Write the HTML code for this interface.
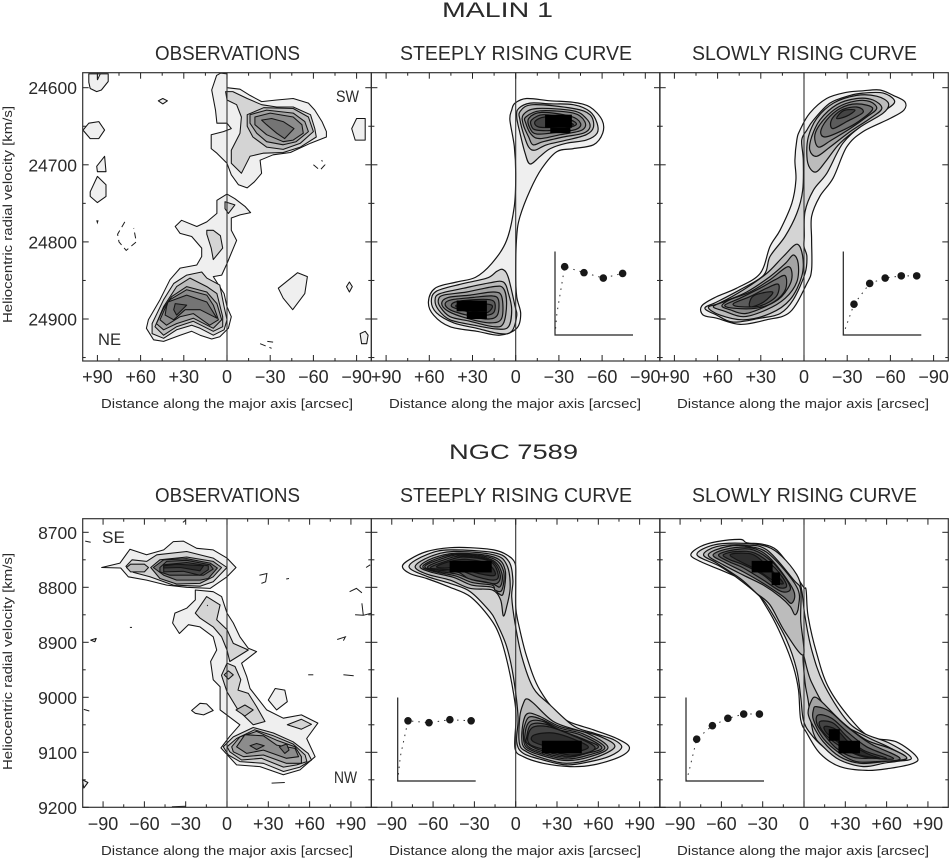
<!DOCTYPE html>
<html lang="en">
<head>
<meta charset="utf-8">
<title>Malin 1 and NGC 7589 position-velocity diagrams</title>
<style>
html,body{margin:0;padding:0;background:#fff;}
svg{display:block;}
text{font-family:"Liberation Sans",sans-serif;fill:#2a2a2a;}
</style>
</head>
<body>
<svg id="figure" width="949" height="859" viewBox="0 0 949 859" xmlns="http://www.w3.org/2000/svg">
<rect width="949" height="859" fill="#fff"/>
<text x="442" y="17" font-size="21" textLength="111" lengthAdjust="spacingAndGlyphs">MALIN 1</text>
<text x="449" y="459" font-size="21" textLength="129" lengthAdjust="spacingAndGlyphs">NGC 7589</text>
<g id="plots"></g>
</svg>
<script>
// ---- tick values and labels ----
const xTickValues = [90, 60, 30, 0, -30, -60, -90];
const xMinorValues = [75, 45, 15, -15, -45, -75];
const xLabelsTop = ['+90', '+60', '+30', '0', '\u221230', '\u221260', '\u221290'];
const xLabelsBottom = ['\u221290', '\u221260', '\u221230', '0', '+30', '+60', '+90'];
const yTicksTop = [24600, 24700, 24800, 24900];
const yMinorTop = [24650, 24750, 24850, 24950];
const yTicksBottom = [8700, 8800, 8900, 9000, 9100, 9200];
const yMinorBottom = [8750, 8850, 8950, 9050, 9150];
const panelTitles = ['OBSERVATIONS', 'STEEPLY RISING CURVE', 'SLOWLY RISING CURVE'];

// ---- rotation curve insets: radius (arcsec), rotation velocity (km/s) ----
const malinSteepRadius = [0, 3, 15, 45, 75, 105];
const malinSteepVelocity = [0, 80, 253, 231, 211, 228];
const malinSlowRadius = [0, 4, 16.6, 41, 65, 90, 114];
const malinSlowVelocity = [0, 30, 114, 191, 211, 219, 219];
const ngcSteepRadius = [0, 4, 16, 48.6, 81, 114];
const ngcSteepVelocity = [0, 90, 223, 216, 227, 223];
const ngcSlowRadius = [0, 4, 16.6, 41, 65, 89.6, 114];
const ngcSlowVelocity = [0, 30, 155, 205, 232, 248, 248];

// ---- contours: [grey level (-1 = unfilled), [offset, velocity, ...]] ----
const malinObsContours = [
[0,[7.2,24584,4.4,24581,0,24582,0,24600,-9,24602,-16,24610,-24,24618,-34.5,24616,-46,24614,-56.5,24620,-61,24629,-66,24644,-69,24657,-69,24664,-58,24672,-44,24684,-32,24687,-23,24694,-24,24711,-19,24722,-14,24730,-8,24726,-3,24713,0,24698,7,24685,11,24679,11,24661,2.5,24657,-3,24653,0,24646,7,24646,8,24629,10.6,24603]],
[1,[1,24605,0,24616,-6.7,24622,-10,24638,-9,24659,-3,24681,-3,24698,-10,24711,-16,24689,-25,24685,-39,24684,-51,24677,-62,24664,-61,24653,-58,24635,-46,24625,-34.5,24625,-24,24622,-14,24614,-4,24605]],
[2,[-14,24635,-25.5,24626,-46,24627,-56.5,24638,-60,24657,-51,24672,-39,24680,-27.5,24677,-18,24664,-14,24650]],
[3,[-16,24635,-27.5,24629,-46,24633,-54,24644,-56.5,24657,-48,24670,-39,24674,-27.5,24670,-20.6,24659,-16,24646]],
[4,[-19.4,24638,-30,24633,-46,24638,-52,24648,-53,24659,-46,24668,-39,24670,-27.5,24661,-19.4,24648]],
[5,[-24,24642,-31,24640,-39,24644,-46.5,24653,-40,24666,-34.5,24659,-27.5,24648]],
[0,[0,24738,-5.5,24744,-12.5,24754,-16.4,24762,-9,24765,-3,24769,-3,24785,-6.7,24798,-2,24819,0,24828,3.7,24843,9.5,24845,2,24867,0,24884,-3,24897,-1,24912,5,24923,10.6,24926,18.7,24921,24.5,24916,32.6,24921,44,24929,51,24927,56,24912,54.6,24901,46.5,24875,39.6,24849,32.6,24834,21,24830,17.6,24819,17.6,24808,24.5,24793,32.6,24789,36,24780,31.5,24772,21,24780,14,24774,7,24763,7,24746]],
[1,[1.4,24748,-5.5,24752,-1,24763,1.4,24757]],
[1,[14,24785,9.5,24785,4.6,24792,3,24808,9.5,24823,11,24808,14,24790]],
[1,[37,24854,28,24843,17.6,24839,14,24847,5,24856,2,24884,0,24901,2,24914,9.5,24921,18.7,24912,24.5,24908,35,24914,44,24925,52,24919,52,24906,44,24875]],
[2,[35,24858,25.7,24847,14,24858,7,24867,3,24897,3,24910,9.5,24916,23.4,24903,35,24910,44,24921,50,24910,44,24884]],
[3,[38.4,24871,28,24858,14,24865,7,24880,3.7,24901,9.5,24912,23.4,24899,35,24906,44,24914,49,24906,44,24886]],
[4,[39.6,24875,28,24862,14,24869,9.5,24882,6,24901,12,24908,23.4,24893,32.6,24897,42,24908,46.5,24901,43,24886]],
[5,[41,24878,28,24869,14,24878,7,24899,18.7,24888,29,24888,37,24901,43,24895,42,24884]],
[6,[36,24880,28,24882,35,24895,37,24888]],
[0,[47.7,24617,44.6,24614,41.4,24617,44.6,24621]],
[0,[96,24582,82.5,24582,82.5,24592,87.2,24603,90.5,24605,95,24601,96,24593]],
[0,[100,24655,96,24646,89,24644,85,24655,89,24666,95,24666]],
[0,[90.5,24702,85,24689,84,24709,90,24709]],
[0,[95,24735,90,24715,84,24726,84,24741,90,24749,95,24741]],
[0,[-86.6,24653,-90,24640,-96,24640,-96,24668,-89,24668]],
[0,[-35.6,24860,-49,24840,-55.8,24845,-54,24867,-45.6,24888,-39,24873]],
[0,[-83,24858,-85,24852,-87,24858,-85,24865]],
[0,[-92.4,24919,-96,24916,-98,24921,-97,24932,-93.5,24932]]
];
const malinObsOpen = [[90,24582,90,24590,88,24582],[90.5,24772,90,24775,89.5,24772]];
const malinObsDashed = [[71,24774,76,24790,75,24800,70,24811,63,24800,64.8,24782],[-60,24700,-64.6,24707,-68,24700,-65.7,24694],[-23,24932,-31,24938],[-28,24929,-32,24930]];

const malinSteepContours = [
[0,[0.5,24620,-7.6,24614,-24,24617,-40,24619,-51.6,24625,-60,24642,-60.4,24659,-54,24674,-40,24679,-28.5,24683,-18,24705,-10,24733,-3,24767,-0.7,24793,0,24841,-0.7,24871,-3.5,24893,-0.7,24912,11,24921,27,24916,45.6,24910,57,24895,60.6,24878,56,24860,41,24852,28,24846,16.7,24828,6.3,24798,1,24754,0,24711,1,24676,4,24642,2.8,24629]],
[1,[-2,24627,-10,24620,-24,24621,-40,24622,-51.6,24631,-56.5,24646,-56.5,24659,-49,24668,-35.4,24672,-24,24679,-17,24689,-10,24699,-6.5,24685,-3,24659,-0.7,24638]],
[2,[-3,24631,-12,24622,-40,24627,-51.6,24635,-54,24651,-49,24661,-35.4,24668,-21.5,24674,-13.4,24681,-9,24677,-5.3,24659,-3,24642]],
[3,[-5.3,24635,-14.6,24627,-40,24630,-49,24640,-51.6,24651,-47,24659,-33,24664,-19,24670,-12,24674,-9,24664,-5.3,24648]],
[4,[-7,24638,-17,24630,-40,24633,-48,24644,-46,24655,-31,24661,-17,24666,-11,24661,-7,24646]],
[5,[-9,24640,-18,24632,-38,24637,-45,24646,-42,24654,-28.5,24658,-14.6,24660,-10,24653]],
[6,[-11,24642,-19,24635,-35.4,24640,-42,24648,-28.5,24655,-14.6,24655,-11,24650]],
[7,[-13.4,24644,-20,24638,-31,24642,-40,24648,-28.5,24651,-16,24651]],
[1,[8.6,24836,5,24847,0.5,24883,-0.7,24896,2.8,24916,11,24919,27,24912,43,24905,55,24892,58.6,24877,55,24864,38.7,24855,20,24847,13,24838]],
[2,[8.6,24852,5,24867,2.8,24888,5,24910,13,24913,29,24908,45.6,24901,53.7,24888,56,24875,52.5,24867,36,24860,18,24853]],
[3,[8.6,24860,6.3,24880,8.6,24906,15.5,24910,31.7,24903,45.6,24897,52.5,24884,53.7,24875,50,24869,34,24865,15.5,24858]],
[4,[9.7,24871,9.7,24899,18,24905,34,24899,46.8,24890,51.4,24880,46.8,24872,31.7,24869,15.5,24865]],
[5,[12,24875,12.7,24895,20,24900,34,24895,45.6,24888,49,24880,44.4,24875,29.4,24872,16.7,24870]],
[6,[14.4,24880,15.5,24892,22.5,24895,36.3,24889,44.4,24884,42,24878,29.4,24875,18,24875]],
[7,[16.7,24882,19,24891,24.8,24891,38.7,24886,41,24882,29.4,24880]]
];
const malinSteepPeaks = [[-20.4,-39,24635,24652],[-24,-38,24652,24659],[20,41,24876,24890],[20,34,24890,24900]];

const malinSlowContours = [
[0,[-41,24604,-52.8,24603,-62,24610,-70,24618,-69.4,24629,-59.7,24640,-41,24657,-29.6,24677,-20.3,24717,-11,24741,-5.3,24767,-5.3,24797,-5.3,24836,-2,24854,9.7,24891,26,24901,44.4,24907,60.6,24899,70,24895,71,24883,60.6,24871,46.8,24860,30.5,24841,23.6,24806,16.7,24785,8.5,24750,5.6,24720,6.3,24694,5,24668,2.8,24655,-4,24633,-15.7,24614,-29.6,24606]],
[1,[-41,24607,-55,24607,-63,24618,-55,24631,-41,24648,-27,24672,-15.8,24711,-6.5,24733,-0.7,24761,-0.2,24793,0,24806,-2,24819,-0.7,24841,7.4,24875,16.7,24893,30.5,24899,49,24904,60.6,24895,68.8,24886,60.6,24878,44.4,24862,28,24843,23.6,24819,13.2,24793,5,24763,0.9,24733,0.5,24694,1.6,24668,-2,24655,-6.5,24642,-18,24620,-32,24610]],
[2,[-8.8,24709,-15.7,24694,-25,24672,-39,24651,-55,24633,-58.6,24620,-50.5,24611,-36.6,24610,-20.4,24620,-8.8,24640,-3,24664,-2,24689,-4,24704]],
[3,[-8.8,24689,-18,24677,-32,24657,-45.8,24640,-54,24627,-48,24616,-36.6,24614,-22.7,24622,-11,24642,-5.3,24664,-4,24681]],
[4,[-10,24677,-19,24668,-32,24653,-43.5,24638,-50.5,24627,-45.8,24618,-36.6,24617,-23.8,24625,-13.4,24642,-7.6,24661]],
[5,[-14.6,24664,-25,24657,-37.7,24644,-47.7,24627,-36.6,24621,-25,24627,-15.7,24642,-11.6,24657]],
[6,[-20,24653,-29.6,24644,-41,24632,-36.6,24625,-26,24629,-19,24642]],
[7,[-22.7,24640,-29.6,24637,-35.4,24629,-27.3,24630]],
[2,[5,24803,0.9,24819,1.6,24845,9.7,24875,23.6,24893,42,24901,58.3,24895,66.4,24885,58.3,24879,42,24862,26,24841,14.4,24819]],
[3,[7.4,24817,4,24828,5,24852,13,24873,26,24888,42,24897,55,24890,63,24884,54.9,24877,39.8,24865,23.6,24845,13,24828]],
[4,[10.9,24832,8.6,24849,15.5,24871,27,24884,41,24893,51.4,24888,57,24883,51.4,24875,37.5,24865,23.6,24849]],
[5,[13,24844,13,24862,21,24878,33,24886,49,24886,54.9,24882,44.4,24873,30.5,24860,20,24849]],
[6,[17.8,24855,19.4,24871,30.5,24883,44.4,24884,49,24880,37.5,24871,26,24860]],
[7,[21.8,24865,28,24878,37.5,24884,35,24870]]
];
const malinSlowPeaks = [];

const ngcObsContours = [
[0,[-91,8764,-77.7,8756,-70.5,8731,-58.4,8741,-46,8732,-39,8717,-31.7,8716,-22,8729,-10,8732,0,8747,6.5,8764,0,8781,-12.3,8802,-29.3,8800,-43.8,8796,-58.4,8787,-71.7,8781,-77.2,8765]],
[1,[-73.4,8762,-69,8750,-58.4,8753,-51,8741,-29.3,8735,-10,8747,0,8764,-10,8790,-19.6,8798,-39,8796,-56,8781,-68,8773]],
[3,[-55.4,8764,-48.7,8750,-29.3,8745,-10,8753,-3.9,8764,-10,8781,-19.6,8793,-36.6,8794,-48.7,8784]],
[5,[-53.5,8764,-46,8750,-29.3,8748,-12.3,8756,-7,8765,-13.6,8784,-19.6,8787,-36.6,8787,-46,8778]],
[6,[-48.7,8764,-43.8,8753,-29.3,8751,-12.3,8759,-10,8767,-17,8778,-27,8778,-41.4,8778,-48.7,8772]],
[7,[-46,8759,-29.3,8755,-13.6,8761,-13.6,8768,-19.6,8778,-31.7,8771,-46,8772]],
[8,[-46,8761,-36.6,8758,-17,8761,-19.6,8770,-34,8764,-46,8765]],
[2,[-73,8764,-70,8758,-60,8758,-57,8764,-60,8772,-70,8772]],
[0,[-23,8805,-10,8808,-3.9,8817,0,8847,4.6,8865,9.4,8890,15.5,8911,21.5,8917,10.6,8938,14.3,8962,16.7,8984,28.8,9023,40.9,9038,54,9032,66,9047,57.9,9075,64,9108,53,9132,40.9,9141,24,9126,7,9123,-4.4,9092,2,9071,9.4,9050,-5,9023,-5,8981,-10,8968,-11.9,8935,-7.5,8914,-10,8890,-19.6,8872,-28,8868,-34.6,8884,-39.5,8865,-37.8,8847,-29.3,8838,-23,8823]],
[1,[-23,8847,-14.8,8817,-5,8832,-7.5,8859,0,8877,4.6,8902,15.5,8914,2,8935,0,8914,-3.9,8890,-10,8872,-19.6,8856]],
[1,[0,8938,5.8,8944,10,8968,8,8987,15.5,8993,21.5,9017,27.6,9044,19,9050,8,9023,0,8990,-4,8960]],
[2,[-2,8959,1,8952,4.6,8959,1,8967]],
[2,[6.5,9023,13,9014,19,9023,13,9034]],
[1,[-2.7,9090,4.6,9072,19,9055,33.7,9065,48,9081,59,9102,61.4,9114,53,9127,41,9135,26.4,9120,9.4,9117,1,9105]],
[2,[0,9090,7,9075,20,9059,33.7,9070,48,9085,56.7,9105,58,9117,50.6,9123,41,9127,25,9111,10.6,9114,2,9099]],
[3,[3.4,9090,9.4,9072,21.5,9062,36,9078,49.4,9090,54,9108,54,9120,43,9120,26.4,9105,12,9108,4.6,9099]],
[4,[7,9090,13,9068,26.4,9070,36,9087,49.4,9093,52,9108,43,9111,26.4,9096,14.3,9102]],
[5,[16.7,9088,21.5,9084,27,9088,21.5,9095]],
[5,[38,9090,43.3,9085,45,9096,42,9102]],
[1,[43.8,9050,54,9040,61.4,9049,54,9058]],
[0,[-25.7,9024,-19.6,9011,-14.8,9012,-10,9024,-17,9032,-23,9029]],
[0,[30,9005,35,8984,42,8987,43.8,9008,36,9023]],
[0,[-105,9150,-101,9155,-104,9165]],
[0,[-99,8896,-95,8893,-96,8899]]
];
const ngcObsOpen = [[23.5,8778,29,8775,28,8790,25,8793],[43,8785,45,8784],[89,8808,94,8802,98,8810],[93,8850,99,8851,105,8847],[98,8829,99,8851],[80,8895,86,8890,84.5,8897],[84.5,8959,92,8961],[59,8959,62.7,8959],[101,8764,104,8759],[32.4,9156,42,9155],[-70.5,8873,-69,8873],[-104,9022,-100,9025],[-103,8716,-99,8718],[-40,9199,-30,9198],[-32,8682,-30,8678],[-14.4,8834,-14,8832]];

const ngcSteepContours = [
[0,[-82.3,8762,-76.8,8749,-64.6,8735,-47.7,8728,-33,8728,-16,8732,-6.5,8741,-0.5,8756,0,8787,0,8835,1.9,8865,8,8926,17.6,8987,34.4,9038,56.4,9059,73.4,9075,82.6,9091,75.8,9108,56.4,9123,39.5,9126,20,9120,5.6,9108,-0.5,9093,0.2,9041,-0.5,9010,-5.4,8944,-11.4,8890,-18.7,8856,-33,8817,-47.7,8800,-64.6,8784,-76.8,8775]],
[1,[-77.5,8762,-64,8740,-47.7,8732,-16,8737,-5,8753,-2,8787,-2.9,8817,-0.5,8865,4.4,8926,12.8,8983,25,9014,42,9052,56.4,9065,71,9077,77,9091,68.5,9107,54,9117,37,9123,20,9114,5.6,9102,0.7,9081,1.7,9035,-1.7,8963,-6.5,8908,-13.8,8865,-18.7,8844,-33,8808,-47.7,8793,-64.6,8780]],
[2,[-73,8762,-62,8744,-45,8735,-16,8741,-6.5,8759,-4,8799,-6.5,8835,-9,8852,-11,8823,-17,8805,-33,8802,-47.7,8787,-64.6,8776]],
[3,[-69.5,8762,-60,8747,-43,8738,-16,8745,-7.7,8768,-9,8811,-12.6,8811,-17,8800,-32,8796,-45,8782,-62,8772]],
[4,[-67.5,8762,-57.5,8748,-41.5,8739.5,-16.7,8747.5,-8.8,8771,-10,8805,-15,8805,-17.2,8796,-31.4,8791.5,-44,8779,-60,8771]],
[5,[-66,8762,-55,8749,-40,8741,-17.4,8750,-10,8775,-11.4,8799,-17.4,8793,-30.8,8787,-43,8776,-58.6,8770]],
[6,[-64,8763,-52.5,8750.5,-39,8743,-18,8751.5,-11.3,8776.5,-13.7,8793,-22.7,8790,-34.4,8784,-41.5,8773,-57,8768.5]],
[7,[-62,8764,-50,8752,-38,8745,-18.6,8753,-12.6,8778,-16,8787,-28,8781,-40,8770,-55,8767]],
[8,[-57.4,8762,-47.7,8753,-35.6,8749,-20,8758,-15,8778,-27,8775,-40,8765,-52.5,8765]],
[2,[8,9003,13,9011,27.4,9044,44,9059,61,9071,72,9090,56.4,9111,37,9120,20,9111,8,9099,2.7,9084,3,9035,5.6,9011]],
[3,[9,9029,17.7,9035,32,9053,51.6,9065,67,9091,54,9108,37,9115,17.7,9105,6.8,9093,4.4,9075,5.6,9044]],
[4,[9.7,9036,18.8,9040,32,9056,49,9066.5,64.7,9091,53,9105,37,9112,17.7,9102,7.4,9090,5.6,9070,6.2,9054]],
[5,[10.4,9044,20,9044,32,9059,46.7,9068,62.5,9091,51.6,9102,37,9109,17.7,9099,8,9087,6.8,9065]],
[6,[11,9050,21.2,9048.5,34.5,9062,52,9079,60,9091,47,9103.5,37,9107,17.7,9096,8.5,9084,7.9,9073]],
[7,[11.6,9056,22.5,9053,37,9065,57.6,9091,42,9105,17.7,9093,9,9081]],
[8,[14,9068,27.4,9065,42,9076,52.8,9091,39.5,9099,19,9087,11.6,9078]]
];
const ngcSteepPeaks = [[-48,-17.4,8752,8773],[19,48,9079,9102]];

const ngcSlowContours = [
[0,[-82.2,8741,-75.4,8726,-63.3,8717,-46.3,8713,-41.5,8719,-29.5,8722,-20,8732,-10.2,8762,-0.5,8799,1.5,8805,3,8853,9.2,8920,17.6,8981,33.4,9038,48,9072,67,9081,81.8,9108,79.4,9120,62.5,9129,45.5,9133,26,9126,11.6,9102,2,9065,-2.4,9041,-4,8987,-7.8,8944,-15,8896,-24.7,8847,-39,8793,-46.3,8784,-61,8768,-75.4,8753]],
[1,[-77.7,8741,-65.4,8723,-43.6,8720,-27,8726,-16,8744,-5.3,8777,-1.7,8805,0.7,8853,5.6,8914,14,8974,29.8,9038,43,9065,62.5,9084,78,9111,62.5,9117,45.5,9123,28.6,9114,14,9090,4.4,9065,-0.5,9041,-2.4,8999,-5.3,8950,-12.6,8896,-24.7,8841,-32,8817,-46.3,8787,-61,8762]],
[2,[-73,8741,-63.4,8726,-44,8723,-27,8732,-7.7,8786,-2.4,8805,-2.4,8859,-0.5,8923,-13.8,8881,-24.7,8832,-34.4,8811,-46.3,8784,-63.4,8756]],
[2,[-0.5,8923,5.5,8973,21.3,9037,45.5,9072,61,9090,74.6,9111,57.6,9120,43,9126,26,9114,14,9090,6.8,9065,3,9005,0.7,8973]],
[3,[-69.5,8741,-56,8726,-39,8726,-24.7,8741,-5.3,8799,-4,8835,-6.5,8850,-10,8835,-17.4,8817,-29.5,8796,-44,8778,-58.6,8759]],
[5,[-66,8741,-53.7,8729,-36.8,8729,-23.5,8750,-7.7,8805,-9,8829,-15,8817,-29.5,8793,-44,8772,-57.4,8755]],
[6,[-62,8741,-51,8732,-36.8,8732,-22.3,8756,-10,8799,-16,8808,-29.5,8787,-44,8765,-55,8753]],
[7,[-58.6,8741,-49,8735,-35.6,8738,-21,8765,-12.6,8796,-18.6,8800,-29.5,8778,-44,8759,-53.7,8750]],
[8,[-53.7,8741,-44,8738,-34.4,8744,-20,8778,-15,8793,-21,8790,-34.4,8768,-46.5,8753]],
[3,[8.5,9000,14,9011,28.6,9047,45.5,9078,62.5,9093,74.6,9111,57.6,9117,40.7,9120,26,9108,14,9081,6.8,9053,3,9029,5.6,9005]],
[5,[9,9017,18.9,9026,31,9053,48,9084,69.7,9111,52.8,9117,38,9117,26,9102,14,9075,6.8,9041,6.8,9023]],
[6,[10.4,9032,20,9038,31,9062,45.5,9090,65,9111,50.4,9111,35.8,9109,23.7,9093,14,9066,9.2,9047]],
[7,[11.6,9044,21.3,9047,31,9071,43,9096,60,9111,43,9108,31,9096,20,9078,12.8,9059]],
[8,[15,9053,23.7,9059,33.4,9084,45.5,9102,55,9111,38,9103,26,9084,16.5,9065]]
];
const ngcSlowPeaks = [[-38,-22.8,8752,8773],[-23.5,-17.4,8773,8796],[18,26,9058,9079],[25,40.7,9079,9102]];

// ---- layout and axis functions ----
const greys = ['#efefef','#d4d4d4','#bcbcbc','#a4a4a4','#8c8c8c','#747474','#5c5c5c','#444444','#2e2e2e'];
const zeros = [227, 515.7, 804];
const HALF = 144.3;
const rows = [
  {name:'malin', top:72.7, bottom:361, scaleX:1.44, dir:-1, v0:24600, v0Y:87.7, pxPerV:0.771,
   majorY:yTicksTop, minorY:yMinorTop, xLabels:xLabelsTop, xValues:xTickValues, titleBase:60, tickBase:383, axisBase:408,
   yTitleC:214.5, insetBase:335},
  {name:'ngc', top:518.7, bottom:807.3, scaleX:1.377, dir:1, v0:8700, v0Y:532.3, pxPerV:0.55,
   majorY:yTicksBottom, minorY:yMinorBottom, xLabels:xLabelsBottom, xValues:xTickValues.slice().reverse(), titleBase:502, tickBase:830, axisBase:855,
   yTitleC:661.5, insetBase:781}
];
const panelSpecs = [
  [{contours:malinObsContours, open:malinObsOpen, dashed:malinObsDashed, peaks:[], smooth:false},
   {contours:malinSteepContours, open:[], dashed:[], peaks:malinSteepPeaks, smooth:true, rr:malinSteepRadius, rv:malinSteepVelocity, ix:555},
   {contours:malinSlowContours, open:[], dashed:[], peaks:malinSlowPeaks, smooth:true, rr:malinSlowRadius, rv:malinSlowVelocity, ix:843.3}],
  [{contours:ngcObsContours, open:ngcObsOpen, dashed:[], peaks:[], smooth:false},
   {contours:ngcSteepContours, open:[], dashed:[], peaks:ngcSteepPeaks, smooth:true, rr:ngcSteepRadius, rv:ngcSteepVelocity, ix:397.7},
   {contours:ngcSlowContours, open:[], dashed:[], peaks:ngcSlowPeaks, smooth:true, rr:ngcSlowRadius, rv:ngcSlowVelocity, ix:686}]
];
const titleBoxes = [[155,145],[400,232],[692,225]];
const axisTitleStarts = [101,389,677];
const INSET_X = 0.644, INSET_Y = 0.27;

const NS = 'http://www.w3.org/2000/svg';
const root = document.getElementById('plots');
function make(tag, attrs, parent) {
  const el = document.createElementNS(NS, tag);
  for (const k in attrs) el.setAttribute(k, attrs[k]);
  parent.appendChild(el);
  return el;
}
function sx(row, zero, a) { return zero + row.dir * a * row.scaleX; }
function sy(row, v) { return row.v0Y + (v - row.v0) * row.pxPerV; }
function toPts(row, zero, flat) {
  const pts = [];
  for (let i = 0; i < flat.length; i += 2) pts.push([sx(row, zero, flat[i]), sy(row, flat[i + 1])]);
  return pts;
}
function straightPath(pts, closed) {
  return 'M' + pts.map(p => p[0].toFixed(1) + ' ' + p[1].toFixed(1)).join('L') + (closed ? 'Z' : '');
}
function smoothPath(pts) {
  const n = pts.length;
  let d = 'M' + pts[0][0].toFixed(1) + ' ' + pts[0][1].toFixed(1);
  for (let i = 0; i < n; i++) {
    const p0 = pts[(i - 1 + n) % n], p1 = pts[i], p2 = pts[(i + 1) % n], p3 = pts[(i + 2) % n];
    const c1x = p1[0] + (p2[0] - p0[0]) / 6, c1y = p1[1] + (p2[1] - p0[1]) / 6;
    const c2x = p2[0] - (p3[0] - p1[0]) / 6, c2y = p2[1] - (p3[1] - p1[1]) / 6;
    d += 'C' + [c1x, c1y, c2x, c2y, p2[0], p2[1]].map(x => x.toFixed(1)).join(' ');
  }
  return d + 'Z';
}

rows.forEach((row, ri) => {
  zeros.forEach((zero, pi) => {
    const spec = panelSpecs[ri][pi];
    const left = zero - HALF, right = zero + HALF;
    const base = row.name + '-' + ['observations', 'steep', 'slow'][pi];
    const g = make('g', {}, root);
    
    

    const t = make('text', {x: titleBoxes[pi][0], y: row.titleBase, 'font-size': 20.5, textLength: titleBoxes[pi][1], lengthAdjust: 'spacingAndGlyphs'}, g);
    t.textContent = panelTitles[pi];
    
    

    // contours
    spec.contours.forEach((ring) => {
      const pts = toPts(row, zero, ring[1]);
      const path = make('path', {d: spec.smooth ? smoothPath(pts) : straightPath(pts, true), fill: ring[0] < 0 ? 'none' : greys[ring[0]], stroke: '#141414', 'stroke-width': spec.smooth ? 1.2 : 1.05, 'stroke-linejoin': 'round'}, g);
      
      
    });
    spec.open.forEach((flat) => {
      const path = make('path', {d: straightPath(toPts(row, zero, flat), false), fill: 'none', stroke: '#1c1c1c', 'stroke-width': 1}, g);
      
      
    });
    spec.dashed.forEach((flat) => {
      const path = make('path', {d: straightPath(toPts(row, zero, flat), false), fill: 'none', stroke: '#1c1c1c', 'stroke-width': 1, 'stroke-dasharray': '6 4'}, g);
      
      
    });
    spec.peaks.forEach((r) => {
      const x1 = sx(row, zero, r[0]), x2 = sx(row, zero, r[1]), y1 = sy(row, r[2]), y2 = sy(row, r[3]);
      const rect = make('rect', {x: Math.min(x1, x2), y: Math.min(y1, y2), width: Math.abs(x2 - x1), height: Math.abs(y2 - y1), fill: '#000'}, g);
      
      
    });

    // zero line
    const zl = make('line', {x1: zero, x2: zero, y1: row.top, y2: row.bottom, stroke: '#333', 'stroke-width': 1.1}, g);
    
    

    // frame
    const frame = make('rect', {x: left, y: row.top, width: right - left, height: row.bottom - row.top, fill: 'none', stroke: '#333', 'stroke-width': 1.2}, g);
    
    

    // x ticks
    const tickLine = (x1, y1, x2, y2, name) => {
      const l = make('line', {x1, y1, x2, y2, stroke: '#222', 'stroke-width': 1}, g);
      
      
    };
    row.xValues.forEach((a, i) => {
      const x = sx(row, zero, a);
      tickLine(x, row.top, x, row.top + 6, 'x-tick');
      tickLine(x, row.bottom, x, row.bottom - 6, 'x-tick');
      const lab = make('text', {x: x, y: row.tickBase, 'font-size': 18, 'text-anchor': 'middle'}, g);
      lab.textContent = row.xLabels[i];
      
      
    });
    xMinorValues.forEach((a) => {
      const x = sx(row, zero, a);
      tickLine(x, row.top, x, row.top + 3, 'x-minor-tick');
      tickLine(x, row.bottom, x, row.bottom - 3, 'x-minor-tick');
    });
    // y ticks
    row.majorY.forEach((v) => {
      const y = sy(row, v);
      tickLine(left, y, left + 6, y, 'y-tick');
      tickLine(right, y, right - 6, y, 'y-tick');
      if (pi === 0) {
        const lab = make('text', {x: 77, y: y + 6.5, 'font-size': 17.5, 'text-anchor': 'end'}, g);
        lab.textContent = String(v);
        
        
      }
    });
    row.minorY.forEach((v) => {
      const y = sy(row, v);
      tickLine(left, y, left + 3, y, 'y-minor-tick');
      tickLine(right, y, right - 3, y, 'y-minor-tick');
    });

    // axis titles
    const xt = make('text', {x: axisTitleStarts[pi], y: row.axisBase, 'font-size': 13, textLength: 252, lengthAdjust: 'spacingAndGlyphs'}, g);
    xt.textContent = 'Distance along the major axis [arcsec]';
    
    
    if (pi === 0) {
      const yt = make('text', {transform: 'translate(12 ' + row.yTitleC + ') rotate(-90)', 'font-size': 13, 'text-anchor': 'middle', textLength: 217, lengthAdjust: 'spacingAndGlyphs'}, g);
      yt.textContent = 'Heliocentric radial velocity [km/s]';
      
      
    }

    // rotation curve inset
    if (spec.rr) {
      const ix = r => spec.ix + r * INSET_X;
      const iy = v => row.insetBase - v * INSET_Y;
      const ax = make('path', {d: 'M' + spec.ix + ' ' + (row.insetBase - 83.5) + 'V' + row.insetBase + 'H' + (spec.ix + 78), fill: 'none', stroke: '#222', 'stroke-width': 1.2}, g);
      
      
      const pts = spec.rr.map((r, i) => [ix(r), iy(spec.rv[i])]);
      const curve = make('path', {d: straightPath(pts, false), fill: 'none', stroke: '#333', 'stroke-width': 1, 'stroke-dasharray': '1.5 5'}, g);
      
      
      spec.rr.forEach((r, i) => {
        if (r < 10) return;
        const dot = make('circle', {cx: ix(r), cy: iy(spec.rv[i]), r: 3.8, fill: '#181818'}, g);
        
        
      });
    }
  });
});

// side annotations
const sideLabels = ['SW', 'NE', 'SE', 'NW'];
const sideX = [336, 98, 102, 334];
const sideY = [102, 345, 543, 783];
sideLabels.forEach((s, i) => {
  const t = make('text', {x: sideX[i], y: sideY[i], 'font-size': 17, textLength: 23, lengthAdjust: 'spacingAndGlyphs'}, root);
  t.textContent = s;
  
  
});
</script>
</body>
</html>
